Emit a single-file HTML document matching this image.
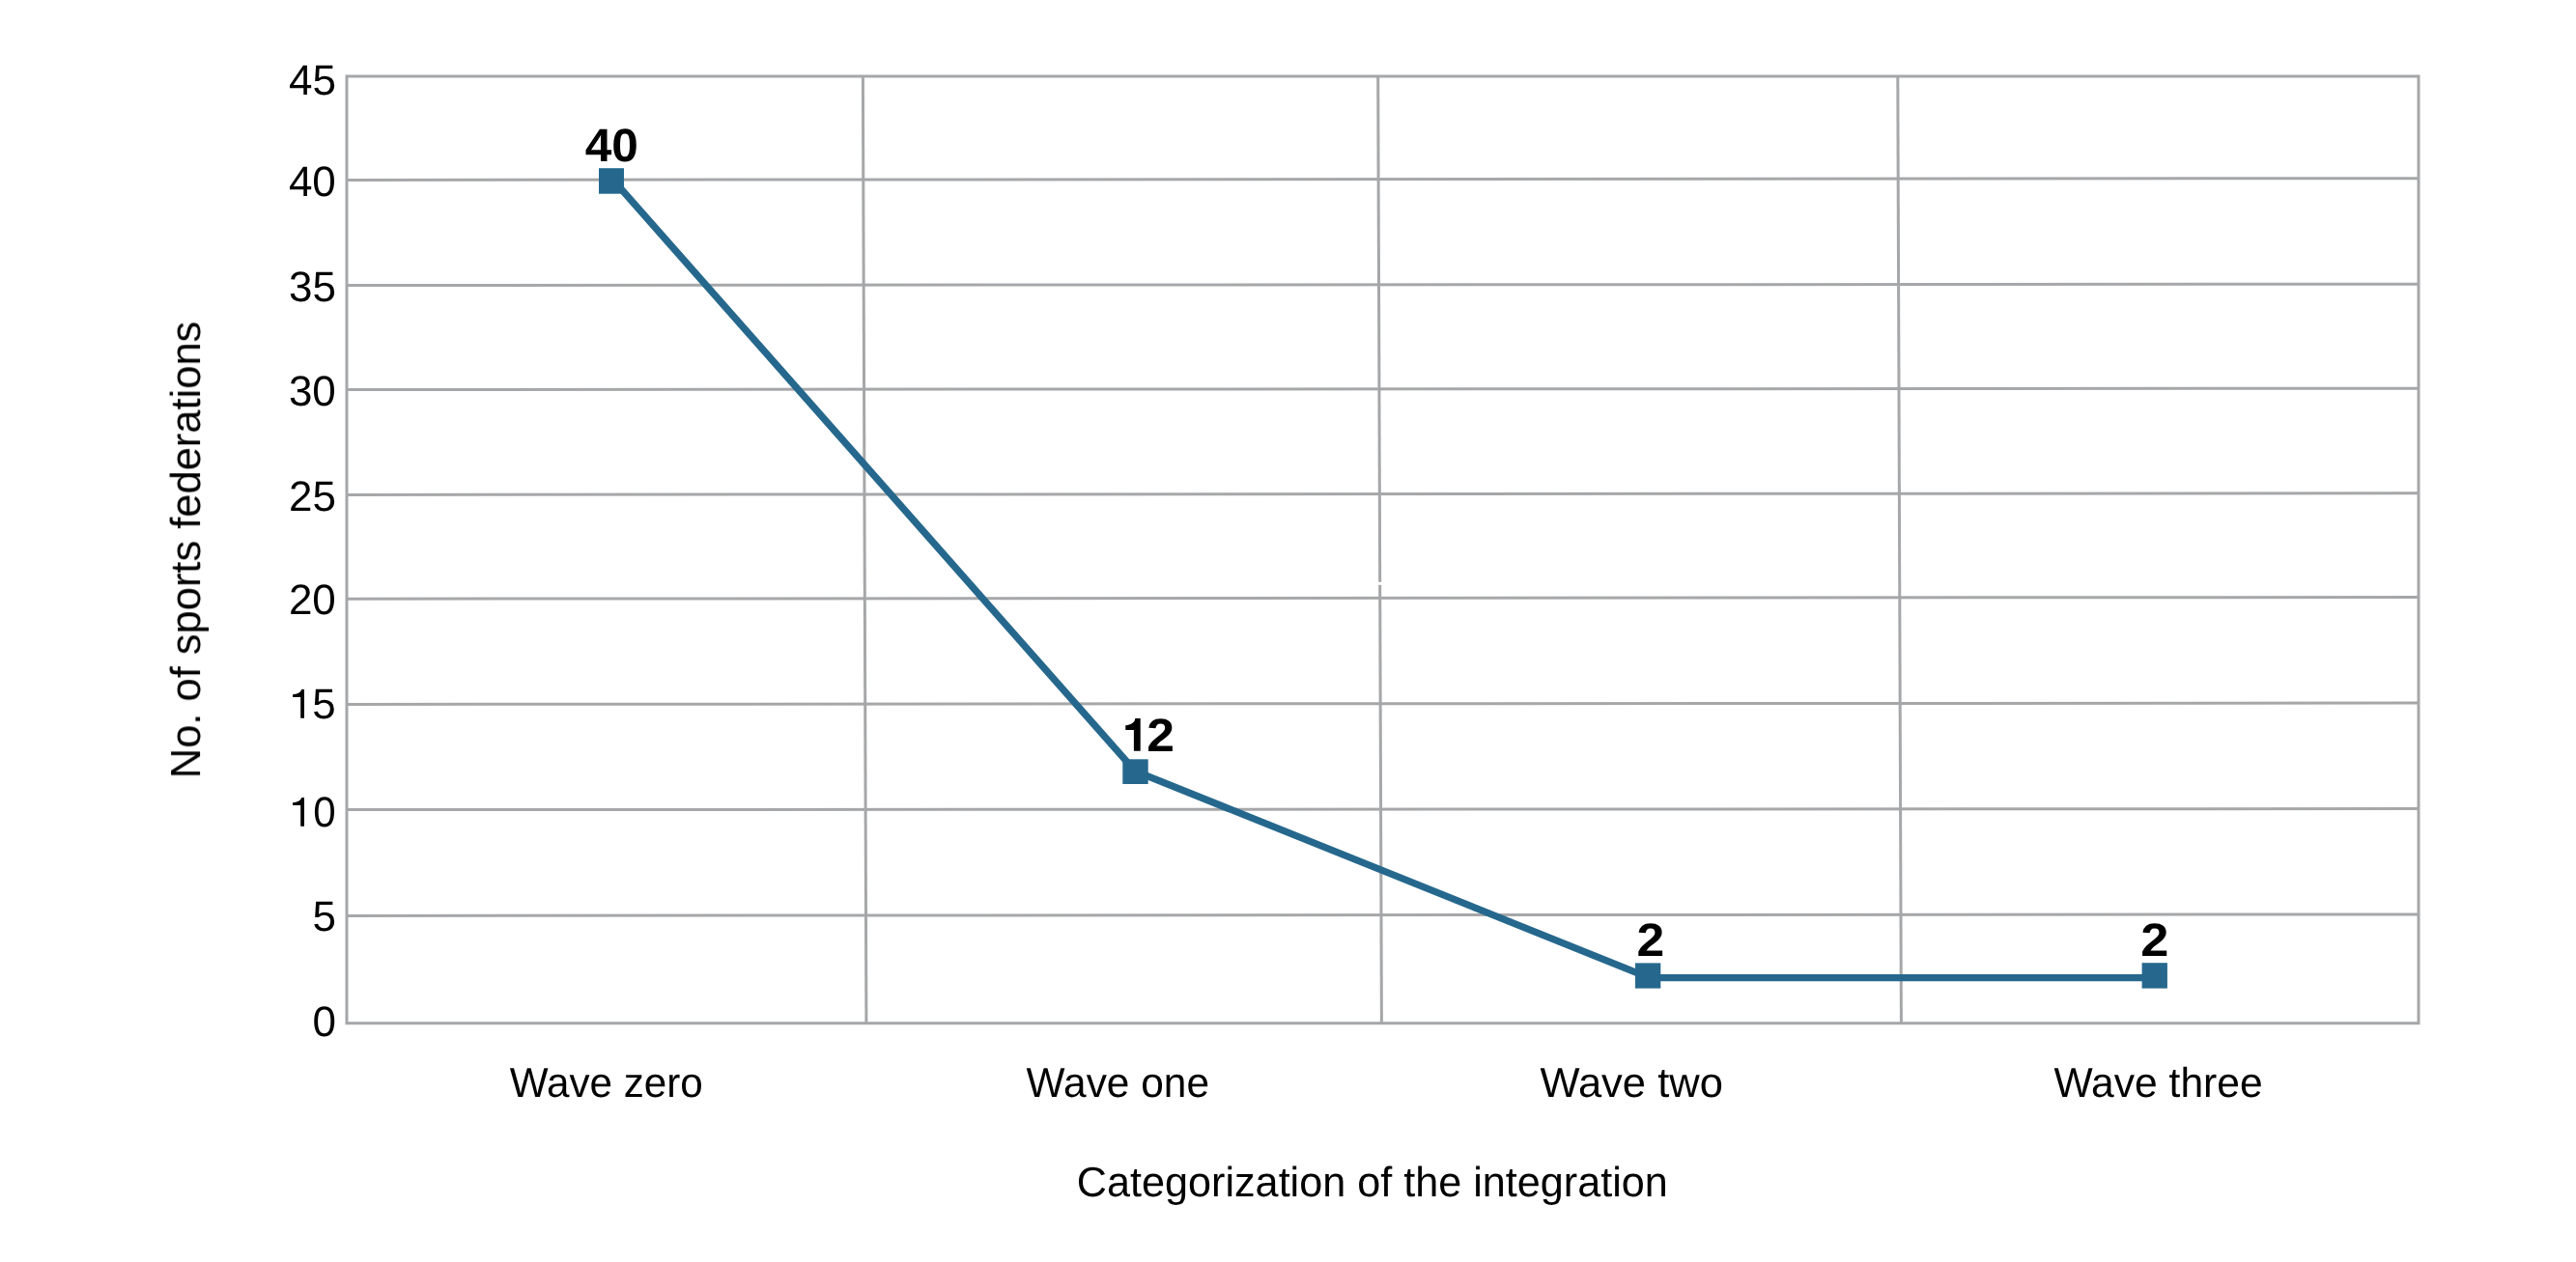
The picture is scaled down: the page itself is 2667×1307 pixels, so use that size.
<!DOCTYPE html>
<html><head><meta charset="utf-8"><title>Chart</title>
<style>html,body{margin:0;padding:0;background:#fff;}body{width:2667px;height:1307px;overflow:hidden;font-family:"Liberation Sans",sans-serif;}svg{display:block;}</style>
</head><body>
<svg width="2667" height="1307" viewBox="0 0 2667 1307">
<rect width="2667" height="1307" fill="#fff"/>
<g stroke="#a6a7a9" stroke-width="3" fill="none"><line x1="359" y1="186.4" x2="2504" y2="184.7"/><line x1="359" y1="295.5" x2="2504" y2="294.2"/><line x1="359" y1="403.5" x2="2504" y2="402.2"/><line x1="359" y1="512.4" x2="2504" y2="510.8"/><line x1="359" y1="620.2" x2="2504" y2="618.5"/><line x1="359" y1="729.4" x2="2504" y2="728.1"/><line x1="359" y1="838.6" x2="2504" y2="837.6"/><line x1="359" y1="948.4" x2="2504" y2="946.9"/><line x1="893.4" y1="79" x2="896.9" y2="1059.7"/><line x1="1426.7" y1="79" x2="1430.4" y2="1059.7"/><line x1="1964.8" y1="79" x2="1968.4" y2="1059.7"/><rect x="359" y="79" width="2145" height="980.7"/></g><rect x="1425" y="602.8" width="8" height="3" fill="#fff"/>
<polyline points="635.7,187.4 1175.3,798.6 1706.2,1012.1 1706.2,1012.7 2230.7,1012.7" fill="none" stroke="#26688d" stroke-width="7.3" stroke-linejoin="round"/>
<rect x="620" y="174.2" width="26.0" height="26.5" fill="#26688d"/><rect x="1162.3" y="786.3" width="26.4" height="25.7" fill="#26688d"/><rect x="1693" y="997.4" width="26.3" height="26.2" fill="#26688d"/><rect x="2217.6" y="997.2" width="26.3" height="26.4" fill="#26688d"/>
<g font-family="Liberation Sans, sans-serif" fill="#000" opacity="0.999" text-rendering="geometricPrecision">
<text transform="translate(299.12,98.25) scale(1.0000,1)" font-size="44" font-weight="400">45</text>
<text transform="translate(298.90,203.38) scale(1.0000,1)" font-size="44" font-weight="400">40</text>
<text transform="translate(299.12,311.58) scale(1.0000,1)" font-size="44" font-weight="400">35</text>
<text transform="translate(298.90,419.68) scale(1.0000,1)" font-size="44" font-weight="400">30</text>
<text transform="translate(299.12,528.63) scale(1.0000,1)" font-size="44" font-weight="400">25</text>
<text transform="translate(298.90,636.33) scale(1.0000,1)" font-size="44" font-weight="400">20</text>
<text transform="translate(323.54,964.20) scale(1.0000,1)" font-size="44" font-weight="400">5</text>
<text transform="translate(323.54,1073.38) scale(1.0000,1)" font-size="44" font-weight="400">0</text>
<text transform="translate(323.35,744.35) scale(0.9952,1)" font-size="44" font-weight="400">5</text>
<text transform="translate(324.32,856.38) scale(0.9569,1)" font-size="44" font-weight="400">0</text>
<path transform="translate(0,0)" d="M315.0,714.1 L315.0,743.8 L311.2,743.8 L311.2,721.9 L303.1,721.9 L303.1,719.2 C307.6,719.0 311.4,717.5 312.1,714.1 Z"/>
<path transform="translate(0,112)" d="M315.0,714.1 L315.0,743.8 L311.2,743.8 L311.2,721.9 L303.1,721.9 L303.1,719.2 C307.6,719.0 311.4,717.5 312.1,714.1 Z"/>
<text transform="translate(527.69,1135.80) scale(0.9745,1)" font-size="43.3" font-weight="400">Wave zero</text>
<text transform="translate(1062.59,1135.80) scale(0.9798,1)" font-size="43.3" font-weight="400">Wave one</text>
<text transform="translate(1594.48,1135.80) scale(1.0048,1)" font-size="43.3" font-weight="400">Wave two</text>
<text transform="translate(2126.49,1135.90) scale(0.9835,1)" font-size="43.3" font-weight="400">Wave three</text>
<text transform="translate(1114.84,1239.20) scale(0.9925,1)" font-size="43.5" font-weight="400">Categorization of the integration</text>
<path d="M1180.7,744.1 L1180.7,777.7 L1173.9,777.7 L1173.9,756.0 L1165.3,756.0 L1165.3,751.2 C1170.5,751.0 1174.6,749.0 1175.3,744.1 Z"/>
<text transform="translate(605.76,166.96) scale(1.0264,1)" font-size="48.3" font-weight="700">40</text>
<text transform="translate(1187.29,777.81) scale(1.0697,1)" font-size="48.3" font-weight="700">2</text>
<text transform="translate(1694.49,989.95) scale(1.0697,1)" font-size="48.3" font-weight="700">2</text>
<text transform="translate(2216.27,989.95) scale(1.0826,1)" font-size="48.3" font-weight="700">2</text>
<text transform="translate(207.1,806.28) rotate(-90) scale(0.9972,1)" font-size="43.6" font-weight="400">No. of sports federations</text>
</g>
</svg>
</body></html>
